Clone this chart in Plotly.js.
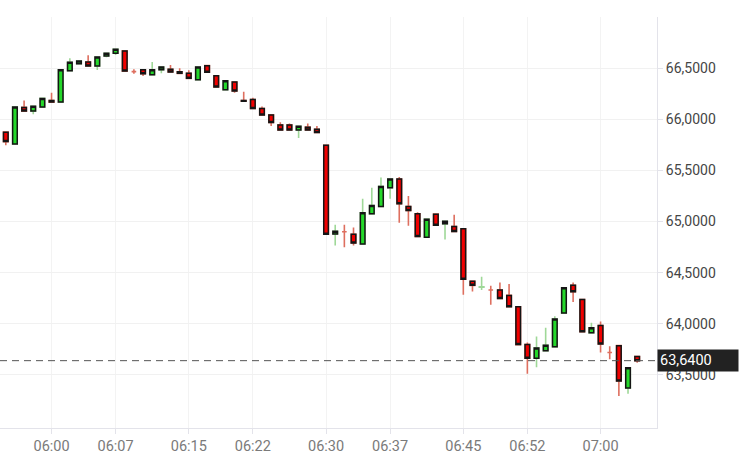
<!DOCTYPE html>
<html>
<head>
<meta charset="utf-8">
<script src="https://cdn.plot.ly/plotly-3.0.1.min.js"></script>
<style>html,body{margin:0;padding:0;background:#fff;}#chart{width:742px;height:464px;}</style>
</head>
<body>
<div id="chart"></div>
<script>
const day = '2024-01-15';
const times = ['05:55','05:56','05:57','05:58','05:59',
  '06:00','06:01','06:02','06:03','06:04','06:05','06:06','06:07','06:08','06:09',
  '06:10','06:11','06:12','06:13','06:14','06:15','06:16','06:17','06:18','06:19',
  '06:20','06:21','06:22','06:23','06:24','06:25','06:26','06:27','06:28','06:29',
  '06:30','06:31','06:32','06:33','06:34','06:35','06:36','06:37','06:38','06:39',
  '06:40','06:41','06:42','06:43','06:44','06:45','06:46','06:47','06:48','06:49',
  '06:50','06:51','06:52','06:53','06:54','06:55','06:56','06:57','06:58','06:59',
  '07:00','07:01','07:02','07:03','07:04'];
const opens = [65.873,65.758,66.115,66.079,66.118,
  66.183,66.167,66.474,66.542,66.559,66.52,66.618,66.644,66.667,66.465,
  66.483,66.435,66.483,66.487,66.464,66.448,66.385,66.523,66.425,66.287,
  66.363,66.182,66.193,66.105,66.042,65.944,65.944,65.895,65.922,65.902,
  65.745,64.879,64.9,64.876,64.781,65.075,65.147,65.33,65.415,65.147,
  65.075,64.846,65.072,64.977,64.951,64.928,64.415,64.358,64.33,64.33,
  64.278,64.167,63.797,63.664,63.738,63.775,64.105,64.376,64.238,63.912,
  63.984,63.72,63.787,63.373,63.68];
const highs = [65.873,66.118,66.183,66.127,66.203,
  66.258,66.483,66.595,66.569,66.624,66.608,66.644,66.683,66.667,66.487,
  66.483,66.559,66.51,66.529,66.497,66.477,66.51,66.529,66.425,66.375,
  66.363,66.268,66.209,66.125,66.042,65.971,65.958,65.931,65.958,65.934,
  65.745,64.968,64.968,64.941,65.223,65.33,65.429,65.415,65.434,65.248,
  65.091,65.023,65.072,65.003,65.066,64.928,64.415,64.461,64.373,64.405,
  64.389,64.167,63.817,63.876,63.961,64.075,64.353,64.405,64.238,64.01,
  64.023,63.78,63.787,63.571,63.68];
const lows = [65.745,65.758,66.079,66.049,66.118,
  66.167,66.167,66.474,66.542,66.52,66.48,66.605,66.627,66.47,66.444,
  66.422,66.435,66.448,66.461,66.448,66.399,66.385,66.458,66.314,66.287,
  66.258,66.167,66.105,66.042,65.934,65.895,65.895,65.817,65.895,65.87,
  64.876,64.765,64.748,64.765,64.781,65.075,65.147,65.223,64.987,64.958,
  64.853,64.846,64.964,64.824,64.902,64.284,64.317,64.33,64.186,64.248,
  64.167,63.797,63.513,63.576,63.738,63.775,64.105,64.213,63.922,63.912,
  63.719,63.654,63.294,63.317,63.62];
const closes = [65.781,66.118,66.079,66.127,66.203,
  66.167,66.483,66.556,66.569,66.52,66.608,66.644,66.683,66.47,66.465,
  66.444,66.483,66.51,66.461,66.448,66.399,66.51,66.458,66.314,66.375,
  66.275,66.176,66.105,66.042,65.968,65.895,65.895,65.931,65.895,65.87,
  64.876,64.905,64.9,64.791,65.085,65.157,65.343,65.415,65.173,65.108,
  64.853,65.023,64.964,65.003,64.902,64.435,64.376,64.362,64.33,64.248,
  64.167,63.797,63.664,63.765,63.791,64.046,64.353,64.314,63.922,63.961,
  63.804,63.72,63.441,63.571,63.64];
const xTickLabels = ['06:00','06:07','06:15','06:22','06:30','06:37','06:45','06:52','07:00'];
const yTickValues = [63.5,64.0,64.5,65.0,65.5,66.0,66.5];

const xs = times.map(t => day + ' ' + t);
// body trace: real bodies only (dojis drawn as coloured crosses by the wick trace)
const isBody = opens.map((o,i) => Math.abs(closes[i]-o) >= 0.005);
const bOpen = opens.map((o,i) => isBody[i] ? o : null);
const bClose = closes.map((c,i) => isBody[i] ? c : null);
const bHigh = opens.map((o,i) => isBody[i] ? Math.max(o, closes[i]) : null);
const bLow = opens.map((o,i) => isBody[i] ? Math.min(o, closes[i]) : null);
const lastPrice = closes[closes.length-1];

const wicks = {
  type: 'candlestick', x: xs, open: opens, high: highs, low: lows, close: closes,
  increasing: {line: {color: '#9fd898', width: 1.6}, fillcolor: '#9fd898'},
  decreasing: {line: {color: '#de6f5f', width: 1.6}, fillcolor: '#de6f5f'},
  hoverinfo: 'skip', showlegend: false
};
const bodies = {
  type: 'candlestick', x: xs, open: bOpen, high: bHigh, low: bLow, close: bClose,
  increasing: {line: {color: '#151515', width: 1.5}, fillcolor: '#24d82a'},
  decreasing: {line: {color: '#151515', width: 1.5}, fillcolor: '#f00000'},
  hoverinfo: 'skip', showlegend: false
};

const layout = {
  width: 742, height: 464,
  margin: {l: 0, r: 85, t: 17, b: 36},
  paper_bgcolor: '#fff', plot_bgcolor: '#fff',
  separators: ',.',
  showlegend: false,
  boxgap: 0.28,
  font: {family: 'Roboto, sans-serif'},
  xaxis: {
    type: 'date',
    range: [day + ' 05:54:22', day + ' 07:06:10'],
    rangeslider: {visible: false},
    tickvals: xTickLabels.map(t => day + ' ' + t),
    ticktext: xTickLabels,
    tickfont: {size: 14.5, color: '#7a7a7a'},
    showgrid: true, gridcolor: '#f3f3f3',
    showline: true, linecolor: '#e3e3ea', linewidth: 1,
    ticks: 'outside', ticklen: 5, tickcolor: '#e3e3ea',
    zeroline: false, fixedrange: true
  },
  yaxis: {
    side: 'right',
    range: [62.982, 66.9985],
    tickvals: yTickValues,
    tickformat: '.4f',
    tickfont: {size: 14, color: '#454545'},
    showgrid: true, gridcolor: '#f1f1f1',
    showline: true, linecolor: '#e3e3ea', linewidth: 1,
    ticks: 'outside', ticklen: 5, tickcolor: '#e3e3ea',
    zeroline: false, fixedrange: true
  },
  shapes: [{
    type: 'line', xref: 'paper', x0: 0, x1: 1, yref: 'y', y0: lastPrice, y1: lastPrice,
    line: {color: '#555', width: 1, dash: '7px,5px'}
  }],
  annotations: [{
    xref: 'paper', x: 1, xanchor: 'left', yref: 'y', y: lastPrice, yanchor: 'middle',
    text: lastPrice.toFixed(4).replace('.', ','), showarrow: false,
    bgcolor: '#222', borderpad: 2, width: 76, align: 'left',
    font: {size: 14.5, color: '#fff', family: 'Roboto, sans-serif'}
  }]
};
Plotly.newPlot('chart', [wicks, bodies], layout, {displayModeBar: false, staticPlot: true});
</script>
</body>
</html>
